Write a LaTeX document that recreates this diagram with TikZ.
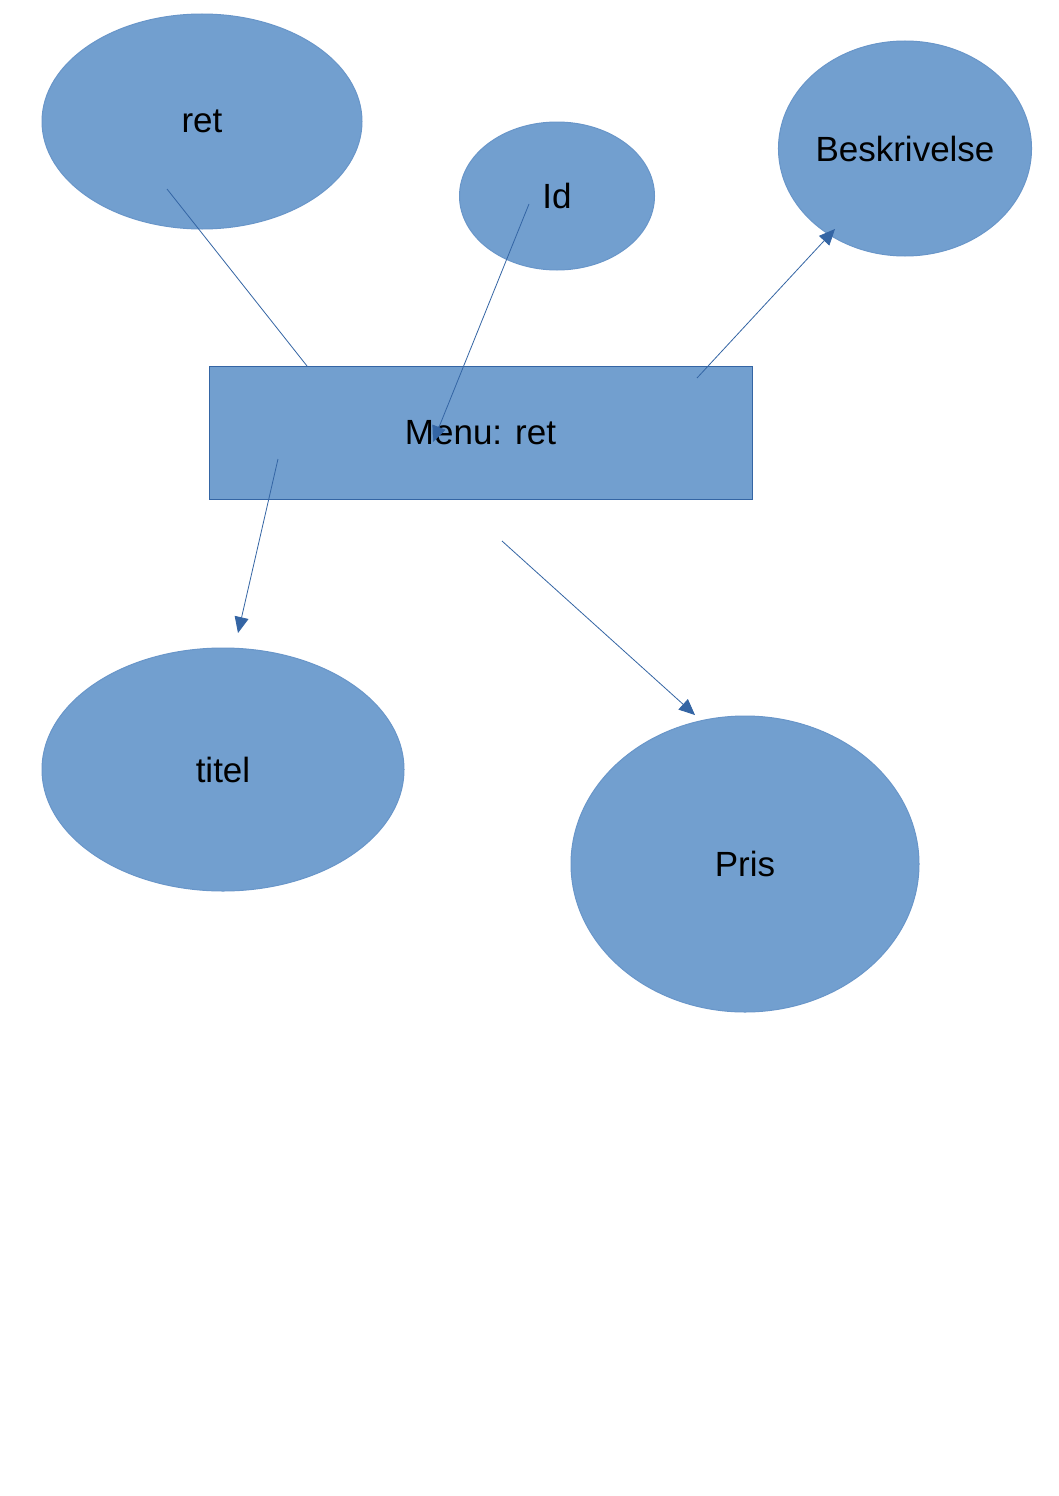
\documentclass[tikz,border=0pt]{standalone}
\usepackage{fontspec}
\setmainfont{Liberation Sans}
\usetikzlibrary{shapes.geometric,arrows.meta}
\definecolor{shapefill}{HTML}{729FCF}
\definecolor{shapeline}{HTML}{3465A4}
\begin{document}
\begin{tikzpicture}[x=1pt,y=-1pt,
  every node/.style={font=\fontsize{35}{42}\selectfont, text=black},
  attr/.style={ellipse, fill=shapefill, draw=shapefill!85!shapeline, line width=1pt, inner sep=0pt},
  entity/.style={rectangle, fill=shapefill, draw=shapeline, line width=1pt, inner sep=0pt, minimum width=543pt, minimum height=133pt},
  link/.style={draw=shapeline, line width=0.8pt},
  arrowlink/.style={link, -{Triangle[length=16pt,width=14pt]}}]
\useasboundingbox (0,0) rectangle (1058,1496);
\fill[white] (0,0) rectangle (1058,1496);

% attribute ellipses and the entity box
\node[attr, minimum width=320pt, minimum height=215pt] (ret) at (202,121.5) {ret};
\node[attr, minimum width=195pt, minimum height=148pt] (id) at (557,196) {Id};
\node[attr, minimum width=250pt, minimum height=215pt] (besk) at (905,148.5) {Beskrivelse};
\node[entity] (menu) at (480.5,432.5) {Menu: ret};
\node[attr, minimum width=362pt, minimum height=243pt] (titel) at (223,769.5) {titel};
\node[attr, minimum width=348pt, minimum height=296pt] (pris) at (745,864) {Pris};

% connector end points
\coordinate (retA) at (167,189);
\coordinate (retB) at (307,366);
\coordinate (idA) at (529,204);
\coordinate (idB) at (433,442);
\coordinate (beskA) at (697,378);
\coordinate (beskB) at (835,229);
\coordinate (titelA) at (278,459);
\coordinate (titelB) at (238,633);
\coordinate (prisA) at (502,541);
\coordinate (prisB) at (695,715);

% connectors
\draw[link] (retA) -- (retB);
\draw[arrowlink] (idA) -- (idB);
\draw[arrowlink] (beskA) -- (beskB);
\draw[arrowlink] (titelA) -- (titelB);
\draw[arrowlink] (prisA) -- (prisB);
\end{tikzpicture}
\end{document}
